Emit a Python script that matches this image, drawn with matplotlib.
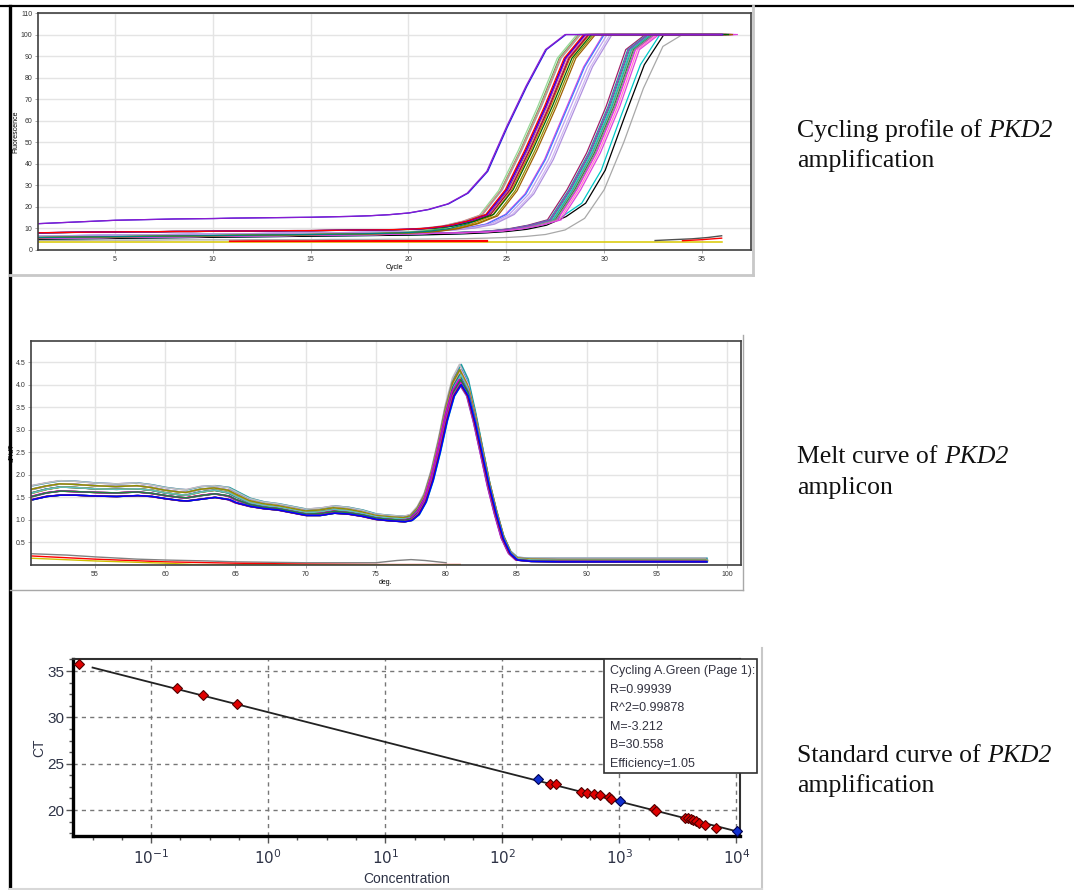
import numpy as np
import matplotlib
matplotlib.use("Agg")
import matplotlib.pyplot as plt
from matplotlib.patches import Rectangle
from matplotlib.ticker import MultipleLocator

plt.rcParams["font.family"] = ["Liberation Sans", "DejaVu Sans"]

W, H = 1074, 890

# ---- cycling profile (fluorescence vs cycle), groups ----
AMP_CYCLES = list(range(0, 37))
AMP_A = [11.9, 12.2, 12.6, 13.0, 13.4, 13.8, 14.0, 14.2, 14.4, 14.5, 14.6, 14.8, 14.9,
         15.0, 15.1, 15.2, 15.4, 15.6, 15.9, 16.4, 17.2, 18.8, 21.4, 26.4, 36.5, 57.0,
         76.0, 93.0, 100, 100, 100, 100, 100, 100, 100, 100, 100]
AMP_B = [7.8, 8.0, 8.1, 8.2, 8.3, 8.4, 8.5, 8.5, 8.6, 8.6, 8.7, 8.8, 8.8, 8.9, 9.0, 9.0,
         9.1, 9.2, 9.3, 9.4, 9.6, 10.1, 11.2, 13.3, 16.5, 28.0, 46.5, 66.7, 89.0, 100,
         100, 100, 100, 100, 100, 100, 100]
AMP_B2 = [5.6, 5.8, 5.9, 6.0, 6.1, 6.2, 6.3, 6.4, 6.5, 6.6, 6.7, 6.8, 6.9, 7.0, 7.1, 7.2,
          7.3, 7.4, 7.6, 7.8, 8.1, 8.7, 9.9, 12.2, 15.8, 27.5, 46.0, 66.5, 89.0, 100,
          100, 100, 100, 100, 100, 100, 100]
AMP_C = [6.3, 6.5, 6.6, 6.7, 6.8, 6.9, 7.0, 7.1, 7.2, 7.3, 7.4, 7.5, 7.6, 7.7, 7.8, 7.9,
         8.0, 8.1, 8.2, 8.3, 8.5, 8.8, 9.3, 10.2, 12.0, 16.5, 26.0, 42.0, 63.5, 85.0,
         100, 100, 100, 100, 100, 100, 100]
AMP_D = [5.3, 5.5, 5.6, 5.7, 5.8, 5.9, 6.0, 6.1, 6.2, 6.3, 6.4, 6.5, 6.6, 6.7, 6.8, 6.9,
         7.0, 7.1, 7.2, 7.4, 7.6, 7.8, 8.0, 8.3, 8.8, 9.8, 11.5, 14.0, 28.0, 45.0, 66.7,
         93.0, 100, 100, 100, 100, 100]
AMP_E = [4.8, 5.0, 5.1, 5.2, 5.3, 5.4, 5.5, 5.6, 5.7, 5.8, 5.9, 6.0, 6.1, 6.2, 6.3, 6.4,
         6.5, 6.6, 6.7, 6.8, 6.9, 7.1, 7.3, 7.6, 8.0, 8.6, 9.6, 11.5, 15.5, 21.7, 37.0,
         62.0, 86.0, 100, 100, 100, 100]
AMP_F = [4.4, 4.5, 4.5, 4.5, 4.6, 4.6, 4.6, 4.6, 4.7, 4.7, 4.7, 4.7, 4.8, 4.8, 4.8, 4.8,
         4.9, 4.9, 4.9, 5.0, 5.0, 5.1, 5.2, 5.3, 5.5, 5.8, 6.3, 7.2, 9.3, 14.7, 28.0,
         50.0, 75.0, 94.5, 100, 100, 100]

# (group, cycle shift, colour)
AMP_MEMBERS = [
    ("F", 0.00, "#a8a8a8"),
    ("E", -0.15, "#00c8c8"), ("E", 0.05, "#000000"),
    ("D", 0.10, "#a0206a"), ("D", 0.20, "#20a0a0"), ("D", 0.30, "#30a060"),
    ("D", 0.35, "#40c8c8"), ("D", 0.45, "#f09090"), ("D", 0.50, "#208040"),
    ("D", 0.60, "#ff00ff"), ("D", 0.70, "#ff80c0"), ("D", 0.40, "#20b0a0"),
    ("D", 0.55, "#909090"), ("D", 0.25, "#9040c0"), ("D", 0.80, "#e040e0"),
    ("C", -0.05, "#e040e0"), ("C", 0.00, "#4080ff"), ("C", 0.15, "#c0a0f0"),
    ("C", 0.30, "#d0b8f0"), ("C", 0.40, "#b090e0"),
    ("B2", -0.40, "#98d898"), ("B2", -0.30, "#50b050"), ("B2", 0.25, "#d08000"),
    ("B2", 0.45, "#909000"), ("B2", 0.55, "#a06000"), ("B2", 0.05, "#008080"),
    ("B", -0.25, "#f08080"), ("B", -0.20, "#a0a0a0"), ("B", 0.15, "#e07070"),
    ("B", 0.20, "#a00040"), ("B", 0.35, "#006000"), ("B", 0.05, "#d000d0"),
    ("B", 0.00, "#0000ff"), ("B", -0.05, "#ff0000"),
    ("A", 0.05, "#2020e0"), ("A", 0.00, "#8a1ad0"),
]
AMP_GROUPS = {"A": AMP_A, "B": AMP_B, "B2": AMP_B2, "C": AMP_C,
              "D": AMP_D, "E": AMP_E, "F": AMP_F}

# flat / negative-control traces
NTC_YELLOW_X, NTC_YELLOW_Y = [0, 36], [3.9, 3.9]
NTC_RED_X, NTC_RED_Y = [10.9, 24.0], [4.2, 4.2]
NTC_GRAY_X = [32.6, 33.5, 34.5, 35.3, 36.0]
NTC_GRAY_Y = [4.4, 4.8, 5.2, 5.8, 6.6]
NTC_RED2_X, NTC_RED2_Y = [34.0, 35.0, 36.0], [4.3, 4.8, 5.5]

# ---- melt curve (dF/dT vs temperature) ----
MELT_T = [50.5, 51.5, 52.5, 53.5, 55, 56.5, 58, 59, 60, 61, 61.5, 62.5, 63.5, 64.5, 65,
          66, 67, 68, 69, 70, 71, 72, 73, 74, 75, 76, 77, 77.5, 78, 78.5, 79, 79.5, 80,
          80.5, 81, 81.5, 82, 82.5, 83, 83.5, 84, 84.5, 85, 86, 88, 92, 98.5]
MELT_LOW = [1.45, 1.52, 1.55, 1.55, 1.53, 1.52, 1.54, 1.52, 1.47, 1.43, 1.42, 1.46, 1.50,
            1.45, 1.38, 1.30, 1.25, 1.22, 1.16, 1.10, 1.10, 1.15, 1.13, 1.08, 1.01, 0.98,
            0.96, 0.99, 1.12, 1.40, 1.88, 2.50, 3.20, 3.75, 4.00, 3.75, 3.15, 2.45, 1.74,
            1.12, 0.58, 0.25, 0.11, 0.08, 0.07, 0.07, 0.07]
MELT_ML = [1.52, 1.60, 1.64, 1.63, 1.61, 1.60, 1.62, 1.59, 1.54, 1.50, 1.49, 1.54, 1.58,
           1.53, 1.45, 1.34, 1.28, 1.25, 1.19, 1.13, 1.14, 1.19, 1.16, 1.11, 1.04, 1.01,
           0.99, 1.03, 1.17, 1.45, 1.94, 2.58, 3.29, 3.85, 4.11, 3.84, 3.22, 2.50, 1.77,
           1.15, 0.60, 0.27, 0.12, 0.09, 0.08, 0.08, 0.08]
MELT_MID = [1.60, 1.68, 1.73, 1.72, 1.69, 1.68, 1.69, 1.66, 1.60, 1.56, 1.55, 1.62, 1.66,
            1.60, 1.52, 1.38, 1.32, 1.28, 1.22, 1.16, 1.18, 1.23, 1.20, 1.14, 1.07, 1.04,
            1.02, 1.06, 1.22, 1.50, 2.00, 2.65, 3.38, 3.95, 4.22, 3.92, 3.28, 2.54, 1.80,
            1.17, 0.62, 0.28, 0.14, 0.11, 0.10, 0.10, 0.10]
MELT_MH = [1.68, 1.75, 1.80, 1.79, 1.76, 1.74, 1.76, 1.72, 1.66, 1.62, 1.61, 1.68, 1.71,
           1.66, 1.58, 1.43, 1.36, 1.32, 1.26, 1.20, 1.22, 1.27, 1.24, 1.18, 1.10, 1.07,
           1.05, 1.09, 1.26, 1.55, 2.06, 2.72, 3.47, 4.05, 4.33, 4.02, 3.35, 2.59, 1.83,
           1.20, 0.64, 0.30, 0.16, 0.13, 0.12, 0.12, 0.12]
MELT_HIGH = [1.76, 1.82, 1.87, 1.86, 1.82, 1.80, 1.82, 1.78, 1.72, 1.68, 1.67, 1.74, 1.76,
             1.72, 1.64, 1.48, 1.40, 1.36, 1.30, 1.24, 1.26, 1.31, 1.28, 1.22, 1.13, 1.10,
             1.08, 1.12, 1.30, 1.60, 2.12, 2.80, 3.56, 4.15, 4.45, 4.12, 3.42, 2.64, 1.86,
             1.22, 0.66, 0.31, 0.17, 0.15, 0.15, 0.15, 0.15]
MELT_PROFILES = {"low": MELT_LOW, "ml": MELT_ML, "mid": MELT_MID,
                 "mh": MELT_MH, "high": MELT_HIGH}
MELT_MEMBERS = [
    ("high", 0.00, "#ff80ff"), ("high", 0.08, "#20a0a0"), ("high", -0.05, "#c0c0c0"),
    ("mh", 0.10, "#00a0c0"), ("mh", 0.02, "#c060c0"), ("mh", -0.08, "#808080"),
    ("mh", 0.06, "#e0a0e0"), ("mh", -0.02, "#909000"), ("mid", 0.00, "#40a040"),
    ("mid", 0.08, "#b0a000"), ("mid", -0.06, "#e08080"), ("mid", 0.04, "#a0a0a0"),
    ("mid", -0.02, "#008080"), ("mid", 0.12, "#c08000"), ("mid", 0.06, "#60c0c0"),
    ("ml", -0.04, "#ff0000"), ("ml", 0.02, "#a00060"), ("ml", 0.10, "#9040c0"),
    ("ml", -0.08, "#d000d0"), ("ml", 0.05, "#208040"), ("low", 0.00, "#d000d0"),
    ("low", 0.06, "#008000"), ("low", -0.04, "#9040c0"), ("low", 0.10, "#00c0c0"),
    ("low", 0.04, "#c00000"), ("low", 0.08, "#0000ff"),
]
MELT_NTC = [
    ([50.5, 53, 55, 58, 60, 63, 65, 70, 75, 76.5, 77.5, 78.5, 80],
     [0.25, 0.22, 0.18, 0.13, 0.11, 0.09, 0.07, 0.05, 0.05, 0.10, 0.12, 0.10, 0.05], "#808080"),
    ([50.5, 55, 60, 65, 70, 75, 81], [0.20, 0.13, 0.07, 0.04, 0.02, 0.01, 0.01], "#ff0000"),
    ([50.5, 55, 60, 62, 65, 81], [0.15, 0.09, 0.04, 0.01, 0.005, 0.005], "#d0c000"),
]

# ---- standard curve ----
STD_RED_LOGC = [-1.615, -0.78, -0.556, -0.265, 2.41, 2.456, 2.675, 2.726, 2.784, 2.838,
                2.909, 2.932, 3.296, 3.31, 3.56, 3.589, 3.61, 3.63, 3.65, 3.68, 3.735, 3.826]
STD_RED_CT = [35.75, 33.13, 32.38, 31.40, 22.81, 22.76, 21.95, 21.88, 21.77, 21.62,
              21.41, 21.23, 20.08, 19.93, 19.17, 19.10, 19.03, 18.93, 18.82, 18.64, 18.39, 18.03]
STD_BLUE_LOGC = [2.305, 3.006, 4.008]
STD_BLUE_CT = [23.32, 20.98, 17.71]
FIT_M, FIT_B = -3.212, 30.558
FIT_RANGE = [-1.5, 4.03]
STATS_LINES = ["Cycling A.Green (Page 1):", "R=0.99939", "R^2=0.99878",
               "M=-3.212", "B=30.558", "Efficiency=1.05"]
CONC_TICKS = [-1, 0, 1, 2, 3, 4]

CAPTIONS = [
    (131, [("Cycling profile of ", "normal"), ("PKD2", "italic")]),
    (161, [("amplification", "normal")]),
    (457, [("Melt curve of ", "normal"), ("PKD2", "italic")]),
    (488, [("amplicon", "normal")]),
    (756, [("Standard curve of ", "normal"), ("PKD2", "italic")]),
    (786, [("amplification", "normal")]),
]

fig = plt.figure(figsize=(W / 100, H / 100), dpi=100)
fig.patch.set_facecolor("white")


def px_axes(l, t, r, b, **kw):
    return fig.add_axes([l / W, 1 - b / H, (r - l) / W, (b - t) / H], **kw)


# background layer for table / screenshot borders
bg = fig.add_axes([0, 0, 1, 1], zorder=-5)
bg.set_xlim(0, W)
bg.set_ylim(H, 0)
bg.axis("off")
bg.plot([0, W], [6, 6], color="black", lw=1.6)
bg.plot([10, 10], [6, H], color="black", lw=2.4)
bg.plot([10, 753], [275, 275], color="#c8c8c8", lw=2)
bg.plot([753, 753], [6, 275], color="#c8c8c8", lw=2)
bg.plot([10, 743], [590, 590], color="#a8a8a8", lw=1)
bg.plot([743, 743], [335, 590], color="#a8a8a8", lw=1)
bg.plot([762, 762], [648, H], color="#c8c8c8", lw=1.5)
bg.plot([10, 762], [889, 889], color="#d8d8d8", lw=1.5)


def small_style(ax):
    ax.grid(True, color="#e4e4e4", lw=1)
    ax.set_axisbelow(True)
    for s in ax.spines.values():
        s.set_color("#404040")
        s.set_linewidth(1.2)
    ax.tick_params(labelsize=5, length=2, width=0.6, colors="#9a9a9a",
                   labelcolor="#333333", pad=2)


# ---- top: cycling profile ----
ax1 = px_axes(38, 13, 751, 250)
small_style(ax1)
cyc = np.array(AMP_CYCLES, dtype=float)
ax1.plot(NTC_YELLOW_X, NTC_YELLOW_Y, color="#d8c800", lw=1.1)
ax1.plot(NTC_RED_X, NTC_RED_Y, color="#ff0000", lw=1.6)
ax1.plot(NTC_GRAY_X, NTC_GRAY_Y, color="#505050", lw=1.0)
ax1.plot(NTC_RED2_X, NTC_RED2_Y, color="#ff0000", lw=1.0)
for grp, shift, col in AMP_MEMBERS:
    ax1.plot(cyc + shift, AMP_GROUPS[grp], color=col, lw=0.9)
ax1.set_xlim(1.07, 37.5)
ax1.set_ylim(0, 110)
ax1.set_xticks([5, 10, 15, 20, 25, 30, 35])
ax1.set_yticks(range(0, 111, 10))
ax1.set_xlabel("Cycle", fontsize=5, labelpad=1)
ax1.set_ylabel("Fluorescence", fontsize=5, labelpad=1)

# ---- middle: melt curve ----
ax2 = px_axes(31, 341, 741, 565)
small_style(ax2)
for tx, vy, col in MELT_NTC:
    ax2.plot(tx, vy, color=col, lw=1.0)
mt = np.array(MELT_T)
for prof, shift, col in MELT_MEMBERS:
    ax2.plot(mt + shift, MELT_PROFILES[prof], color=col, lw=1.1)
ax2.set_xlim(50.44, 101)
ax2.set_ylim(0, 4.97)
ax2.set_xticks([55, 60, 65, 70, 75, 80, 85, 90, 95, 100])
ax2.set_yticks([0.5, 1.0, 1.5, 2.0, 2.5, 3.0, 3.5, 4.0, 4.5])
ax2.set_yticklabels([f"{v:.1f}" for v in ax2.get_yticks()])
ax2.set_xlabel("deg.", fontsize=5, labelpad=1)
ax2.set_ylabel("dF/dT", fontsize=5, labelpad=0)

# ---- bottom: standard curve ----
ax3 = px_axes(73, 659, 740, 836)
ax3.set_xlim(-1.667, 4.03)
ax3.set_ylim(17.2, 36.3)
ax3.grid(True, which="major", color="#777777", lw=1, ls=(0, (3, 3)))
ax3.set_axisbelow(True)
fx = np.array(FIT_RANGE)
ax3.plot(fx, FIT_M * fx + FIT_B, color="#222222", lw=1.3, zorder=3)
ax3.plot(STD_RED_LOGC, STD_RED_CT, ls="none", marker="D", ms=5.5, mfc="#e00000",
         mec="#500000", mew=0.8, zorder=4, clip_on=False)
ax3.plot(STD_BLUE_LOGC, STD_BLUE_CT, ls="none", marker="D", ms=5.5, mfc="#1030d0",
         mec="#000050", mew=0.8, zorder=4, clip_on=False)
ax3.set_xticks(CONC_TICKS)
ax3.set_xticklabels([f"$10^{{{c}}}$" for c in CONC_TICKS])
ax3.xaxis.set_minor_locator(MultipleLocator(0.25))
ax3.set_yticks([20, 25, 30, 35])
ax3.yaxis.set_minor_locator(MultipleLocator(1.25))
for side in ("left", "bottom"):
    ax3.spines[side].set_linewidth(2.4)
    ax3.spines[side].set_color("black")
for side in ("top", "right"):
    ax3.spines[side].set_linewidth(1.5)
    ax3.spines[side].set_color("#303030")
ax3.tick_params(which="both", colors="#555555", labelcolor="#2e3346", labelsize=11)
ax3.tick_params(which="major", length=5, width=1)
ax3.tick_params(which="minor", length=3, width=1)
ax3.tick_params(axis="y", pad=1)
ax3.set_xlabel("Concentration", fontsize=10, color="#2e3346", labelpad=4)
ax3.set_ylabel("CT", fontsize=10, color="#2e3346", labelpad=1)

# stats box
fig.patches.append(Rectangle((604 / W, 1 - 773 / H), 153 / W, 114 / H,
                             transform=fig.transFigure, facecolor="white",
                             edgecolor="#303030", lw=1.2, zorder=5))
for i, line in enumerate(STATS_LINES):
    fig.text(610 / W, 1 - (671 + i * 18.6) / H, line, fontsize=9, color="#333340",
             va="center", ha="left", zorder=6)

# captions
renderer = fig.canvas.get_renderer()
for y, parts in CAPTIONS:
    cx = 797
    for s, style in parts:
        t = fig.text(cx / W, 1 - y / H, s, family="Liberation Serif", style=style,
                     fontsize=18.5, va="center", ha="left", color="#111111")
        cx += t.get_window_extent(renderer=renderer).width

fig.savefig("out.png", dpi=100)
